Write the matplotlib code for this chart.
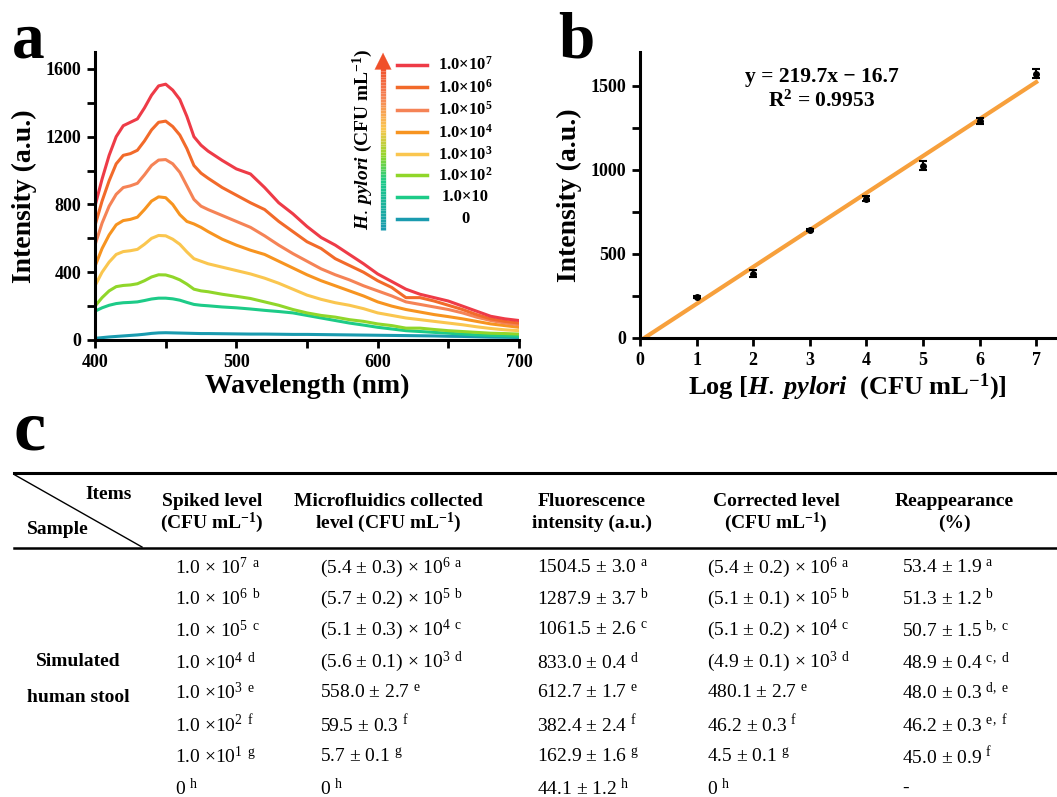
import numpy as np
import matplotlib
matplotlib.use("Agg")
import matplotlib.pyplot as plt
from matplotlib.lines import Line2D
from matplotlib.collections import LineCollection
from matplotlib.colors import LinearSegmentedColormap

plt.rcParams['font.family'] = 'Liberation Serif'
plt.rcParams['font.weight'] = 'bold'
plt.rcParams['axes.labelweight'] = 'bold'
plt.rcParams['mathtext.fontset'] = 'custom'
plt.rcParams['mathtext.rm'] = 'Liberation Serif:weight=normal'
plt.rcParams['mathtext.it'] = 'Liberation Serif:italic:bold'
plt.rcParams['mathtext.bf'] = 'Liberation Serif:bold'

W, H = 1057, 797

# ---- panel a: fluorescence spectra ----
wavelength = [400, 405, 410, 415, 420, 425, 430, 435, 440, 445, 450, 455, 460, 465, 470, 475, 480,
              490, 500, 510, 520, 530, 540, 550, 560, 570, 580, 590, 600, 610, 620, 630, 640, 650,
              660, 670, 680, 690, 700]
spec_1e7 = [790, 950, 1090, 1200, 1265, 1285, 1305, 1370, 1445, 1500, 1510, 1475, 1420, 1320, 1200, 1150, 1115,
            1060, 1010, 980, 900, 810, 745, 670, 605, 560, 505, 450, 390, 345, 300, 270, 250, 230,
            200, 170, 140, 125, 115]
spec_1e6 = [675, 820, 940, 1040, 1090, 1100, 1120, 1175, 1240, 1285, 1292, 1260, 1210, 1130, 1030, 985, 955,
            900, 855, 810, 770, 700, 640, 580, 540, 480, 440, 400, 350, 310, 250, 250, 230, 205,
            180, 150, 125, 110, 100]
spec_1e5 = [560, 690, 790, 860, 900, 910, 925, 975, 1030, 1062, 1065, 1040, 990, 910, 830, 790, 770,
            735, 700, 665, 615, 560, 510, 465, 420, 385, 355, 320, 290, 260, 225, 210, 195, 180,
            160, 135, 115, 100, 90]
spec_1e4 = [435, 540, 620, 680, 705, 712, 725, 770, 820, 845, 840, 800, 740, 700, 685, 665, 640,
            595, 560, 530, 505, 465, 425, 385, 350, 320, 290, 260, 225, 200, 180, 165, 150, 138,
            125, 110, 95, 85, 75]
spec_1e3 = [320, 400, 460, 505, 522, 527, 535, 565, 600, 617, 615, 595, 565, 520, 480, 465, 450,
            430, 410, 390, 365, 335, 300, 265, 240, 220, 205, 185, 160, 145, 130, 120, 110, 100,
            90, 78, 68, 60, 55]
spec_1e2 = [200, 250, 290, 315, 322, 325, 332, 350, 372, 385, 384, 372, 355, 330, 300, 290, 285,
            270, 258, 245, 225, 205, 180, 160, 145, 135, 120, 110, 95, 85, 70, 70, 62, 55,
            50, 45, 40, 38, 35]
spec_1e1 = [170, 190, 205, 215, 220, 222, 225, 233, 242, 247, 247, 243, 235, 222, 210, 205, 202,
            195, 190, 183, 175, 168, 160, 145, 130, 115, 100, 88, 75, 65, 55, 50, 45, 40,
            35, 30, 27, 25, 22]
spec_0 = [10, 14, 18, 21, 24, 27, 30, 34, 39, 42, 43, 42, 41, 40, 39, 38, 38,
          37, 36, 35, 35, 34, 33, 33, 32, 31, 30, 29, 28, 27, 26, 25, 24, 22,
          21, 19, 17, 16, 15]
spectra = [spec_1e7, spec_1e6, spec_1e5, spec_1e4, spec_1e3, spec_1e2, spec_1e1, spec_0]
spec_labels = [r"1.0×10$^{\mathbf{7}}$", r"1.0×10$^{\mathbf{6}}$", r"1.0×10$^{\mathbf{5}}$",
               r"1.0×10$^{\mathbf{4}}$", r"1.0×10$^{\mathbf{3}}$", r"1.0×10$^{\mathbf{2}}$",
               "1.0×10", "0"]
spec_colors = ['#EE3B47', '#F26A2A', '#F58356', '#F79420', '#FAC64F', '#90D62A', '#1DCB88', '#1A9BAF']

# ---- panel b: calibration ----
log_conc = [1, 2, 3, 4, 5, 6, 7]
intensity = [244, 383, 642, 827, 1025, 1290, 1572]
intensity_err = [6, 20, 6, 15, 25, 18, 25]
slope, intercept = 219.7, -16.7

# ---- panel c: table ----
header_cols = [("Spiked level", r"(CFU mL$^{\mathbf{-1}}$)"),
               ("Microfluidics collected", r"level (CFU mL$^{\mathbf{-1}}$)"),
               ("Fluorescence", "intensity (a.u.)"),
               ("Corrected level", r"(CFU mL$^{\mathbf{-1}}$)"),
               ("Reappearance", "(%)")]
spiked = [r"1.0 × 10$^{7}$", r"1.0 × 10$^{6}$", r"1.0 × 10$^{5}$", r"1.0 ×10$^{4}$",
          r"1.0 ×10$^{3}$", r"1.0 ×10$^{2}$", r"1.0 ×10$^{1}$", "0"]
collected = [r"(5.4 ± 0.3) × 10$^{6}$", r"(5.7 ± 0.2) × 10$^{5}$", r"(5.1 ± 0.3) × 10$^{4}$",
             r"(5.6 ± 0.1) × 10$^{3}$", "558.0 ± 2.7", "59.5 ± 0.3", "5.7 ± 0.1", "0"]
fluor = ["1504.5 ± 3.0", "1287.9 ± 3.7", "1061.5 ± 2.6", "833.0 ± 0.4",
         "612.7 ± 1.7", "382.4 ± 2.4", "162.9 ± 1.6", "44.1 ± 1.2"]
corrected = [r"(5.4 ± 0.2) × 10$^{6}$", r"(5.1 ± 0.1) × 10$^{5}$", r"(5.1 ± 0.2) × 10$^{4}$",
             r"(4.9 ± 0.1) × 10$^{3}$", "480.1 ± 2.7", "46.2 ± 0.3", "4.5 ± 0.1", "0"]
reappear = ["53.4 ± 1.9", "51.3 ± 1.2", "50.7 ± 1.5", "48.9 ± 0.4",
            "48.0 ± 0.3", "46.2 ± 0.3", "45.0 ± 0.9", "-"]
letters = ["a", "b", "c", "d", "e", "f", "g", "h"]
reappear_letters = ["a", "b", "b, c", "c, d", "d, e", "e, f", "f", ""]


def fx(x):
    return x / W


def fy(y):
    return 1 - y / H


fig = plt.figure(figsize=(W / 100, H / 100), dpi=100)


def style_axes(ax):
    for s in ['top', 'right']:
        ax.spines[s].set_visible(False)
    for s in ['left', 'bottom']:
        ax.spines[s].set_linewidth(2.2)
    ax.tick_params(which='both', direction='out', length=6, width=2, labelsize=13, pad=4)


# panel a
ax1 = fig.add_axes([fx(95), fy(340), 424 / W, 288 / H])
for y, c in zip(spectra[::-1], spec_colors[::-1]):
    ax1.plot(wavelength, y, color=c, lw=2.2)
ax1.set_xlim(400, 700)
ax1.set_ylim(0, 1700)
ax1.set_xticks([400, 500, 600, 700])
ax1.set_xticks([450, 550, 650], minor=True)
ax1.set_yticks([0, 400, 800, 1200, 1600])
ax1.set_yticks([200, 600, 1000, 1400], minor=True)
style_axes(ax1)
ax1.set_xlabel("Wavelength (nm)", fontsize=20, labelpad=2)
ax1.set_ylabel("Intensity (a.u.)", fontsize=20, labelpad=6)

# legend of panel a
leg_rows = [1624, 1491, 1359, 1225, 1096, 972, 846, 715]
for yr, c, lab in zip(leg_rows, spec_colors, spec_labels):
    ax1.plot([613.7, 634.9], [yr, yr], color=c, lw=2.5, clip_on=False)
    ax1.text(662, yr, lab, ha='center', va='center', fontsize=12)

cmap = LinearSegmentedColormap.from_list('arr', [(0, '#1A9BAF'), (0.3, '#1DCB88'), (0.45, '#90D62A'),
                                                 (0.62, '#FAC64F'), (0.82, '#F58356'), (1, '#F0502A')])
ys = np.linspace(650, 1620, 60)
segs = [[(603.8, ys[i]), (603.8, ys[i + 1])] for i in range(len(ys) - 1)]
lc = LineCollection(segs, colors=cmap(np.linspace(0, 1, len(segs))), linewidths=3.8, clip_on=False)
ax1.add_collection(lc)
ax1.annotate('', xy=(603.8, 1712), xytext=(603.8, 1590),
             arrowprops=dict(arrowstyle='-|>', color='#F0502A', lw=0.1, mutation_scale=30),
             annotation_clip=False)
ax1.text(589.5, 1185, r"$\mathit{H.}\:\mathit{pylori}$ (CFU mL$^{\mathbf{-1}}$)", rotation=90,
         ha='center', va='center', fontsize=14)

# panel b
ax2 = fig.add_axes([fx(640), fy(338), 415 / W, 286 / H])
xs = np.array([-intercept / slope, 7])
ax2.plot(xs, slope * xs + intercept, color='#F7A03C', lw=3, zorder=2)
ax2.errorbar(log_conc, intensity, yerr=intensity_err, fmt='o', color='black', ms=4,
             capsize=3, elinewidth=1.5, capthick=1.5, zorder=3)
ax2.set_xlim(0, 415 / 56.6)
ax2.set_ylim(0, 1700)
ax2.set_xticks(range(0, 8))
ax2.set_yticks([0, 500, 1000, 1500])
ax2.set_yticks([250, 750, 1250], minor=True)
style_axes(ax2)
ax2.set_xlabel(r"Log [$\mathit{H.}\:\mathit{pylori}$  (CFU mL$^{\mathbf{-1}}$)]", fontsize=19, labelpad=2)
ax2.set_ylabel("Intensity (a.u.)", fontsize=20, labelpad=6)
ax2.text(3.21, 1553, "y = 219.7x − 16.7", ha='center', va='center', fontsize=15.5)
ax2.text(3.21, 1405, r"R$^{\mathbf{2}}$ = 0.9953", ha='center', va='center', fontsize=15.5)

# panel letters
fig.text(fx(12), fy(58), "a", fontsize=47, ha='left', va='baseline')
fig.text(fx(558), fy(58), "b", fontsize=47, ha='left', va='baseline')
fig.text(fx(14), fy(450), "c", fontsize=52, ha='left', va='baseline')

# panel c table
fig.add_artist(Line2D([fx(14), 1], [fy(473), fy(473)], lw=2.2, color='black'))
fig.add_artist(Line2D([fx(14), 1], [fy(548), fy(548)], lw=1.8, color='black'))
fig.add_artist(Line2D([fx(15), fx(142)], [fy(475), fy(547)], lw=1, color='black'))
fig.text(fx(132), fy(495), "Items", fontsize=14, ha='right', va='center')
fig.text(fx(27), fy(530), "Sample", fontsize=14, ha='left', va='center')

head_x = [212, 388, 592, 776, 954]
for hx, (l1, l2) in zip(head_x, header_cols):
    fig.text(fx(hx), fy(502), l1, fontsize=14, ha='center', va='center')
    fig.text(fx(hx), fy(523), l2, fontsize=14, ha='center', va='center')

fig.text(fx(78), fy(662), "Simulated", fontsize=14, ha='center', va='center')
fig.text(fx(78), fy(697), "human stool", fontsize=14, ha='center', va='center')

row_y = [568, 599, 630, 662, 693, 725, 757, 788]
columns = [(175, spiked, letters), (320, collected, letters), (537, fluor, letters),
           (707, corrected, letters), (902, reappear, reappear_letters)]
for cx, vals, lets in columns:
    for ry, v, lt in zip(row_y, vals, lets):
        s = v
        if lt:
            s = v + r" $^{\mathrm{" + lt.replace(' ', r'\ ') + "}}$"
        fig.text(fx(cx), fy(ry), s, fontsize=14, fontweight='normal', ha='left', va='center')

fig.savefig("out.png", dpi=100)
